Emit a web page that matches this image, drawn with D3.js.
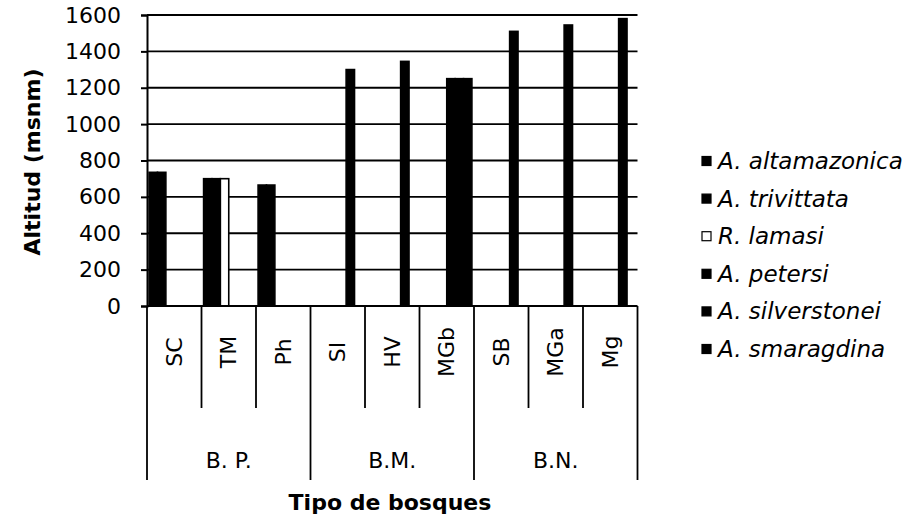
<!DOCTYPE html>
<html>
<head>
<meta charset="utf-8">
<script src="https://cdn.jsdelivr.net/npm/d3@7"></script>
<style>
  html, body { margin: 0; padding: 0; background: #fff; }
  svg { display: block; }
  text { font-family: "DejaVu Sans", "Liberation Sans", Arial, sans-serif; fill: #000; }
</style>
</head>
<body>
<svg id="chart" width="920" height="517"></svg>
<script>
// ---- data ----
const categories = ["SC", "TM", "Ph", "SI", "HV", "MGb", "SB", "MGa", "Mg"];
const categoryGroups = ["B. P.", "B. P.", "B. P.", "B.M.", "B.M.", "B.M.", "B.N.", "B.N.", "B.N."];
const groups = ["B. P.", "B.M.", "B.N."];
const seriesNames = ["A. altamazonica", "A. trivittata", "R. lamasi", "A. petersi", "A. silverstonei", "A. smaragdina"];
const altamazonica = [735, 700, 665, null, null, null, null, null, null];
const trivittata   = [735, 700, 665, null, null, null, null, null, null];
const lamasi       = [null, 700, null, null, null, null, null, null, null];
const petersi      = [null, null, null, null, null, 1250, null, null, null];
const silverstonei = [null, null, null, 1300, 1345, 1250, 1510, 1545, 1580];
const smaragdina   = [null, null, null, null, null, 1250, null, null, null];
const seriesFill = ["#000", "#000", "#fff", "#000", "#000", "#000"];
const yTicks = [0, 200, 400, 600, 800, 1000, 1200, 1400, 1600];
const yTitle = "Altitud (msnm)";
const xTitle = "Tipo de bosques";

const seriesValues = [altamazonica, trivittata, lamasi, petersi, silverstonei, smaragdina];

// ---- layout ----
const svg = d3.select("#chart");
const plotLeft = 147, plotRight = 637.5, plotTop = 15, plotBottom = 306;

const x0 = d3.scaleBand().domain(categories).range([plotLeft, plotRight]).paddingInner(0).paddingOuter(0);
const x1 = d3.scaleBand().domain(seriesNames).range([0, x0.bandwidth()]).paddingInner(0).paddingOuter(0.25);
const y = d3.scaleLinear().domain([0, 1600]).range([plotBottom, plotTop]);

// gridlines
svg.append("g")
  .selectAll("line")
  .data(yTicks.filter(t => t > 0))
  .join("line")
  .attr("x1", plotLeft).attr("x2", plotRight)
  .attr("y1", d => y(d)).attr("y2", d => y(d))
  .attr("stroke", "#000").attr("stroke-width", 1.8);

// bars
const barData = [];
seriesValues.forEach((vals, si) => {
  vals.forEach((v, ci) => {
    if (v != null) barData.push({ s: seriesNames[si], si, c: categories[ci], v });
  });
});
svg.append("g")
  .selectAll("rect")
  .data(barData)
  .join("rect")
  .attr("x", d => x0(d.c) + x1(d.s))
  .attr("y", d => y(d.v))
  .attr("width", x1.bandwidth())
  .attr("height", d => y(0) - y(d.v))
  .attr("fill", d => seriesFill[d.si])
  .attr("stroke", "#000")
  .attr("stroke-width", 1.6);

// y axis
const yAxis = svg.append("g")
  .attr("transform", `translate(${plotLeft},0)`)
  .call(d3.axisLeft(y).tickValues(yTicks).tickFormat(d3.format("d")).tickSize(6).tickPadding(20));
yAxis.select(".domain").attr("stroke", "#000").attr("stroke-width", 2);
yAxis.selectAll(".tick line").attr("stroke", "#000").attr("stroke-width", 2);
yAxis.selectAll(".tick text").attr("font-size", 22).attr("fill", "#000")
  .attr("font-family", "'DejaVu Sans', Arial, sans-serif");

// x axis baseline
svg.append("line")
  .attr("x1", plotLeft).attr("x2", plotRight)
  .attr("y1", y(0)).attr("y2", y(0))
  .attr("stroke", "#000").attr("stroke-width", 2);

// category separators
const boundaries = categories.map(c => x0(c)).concat([x0(categories[categories.length - 1]) + x0.bandwidth()]);
svg.append("g")
  .selectAll("line")
  .data(boundaries)
  .join("line")
  .attr("x1", d => d).attr("x2", d => d)
  .attr("y1", y(0))
  .attr("y2", (d, i) => (i % 3 === 0) ? 480 : 408)
  .attr("stroke", "#000").attr("stroke-width", 1.8);

// category labels
svg.append("g")
  .selectAll("text")
  .data(categories)
  .join("text")
  .attr("transform", d => `translate(${x0(d) + x0.bandwidth() / 2},352) rotate(-90)`)
  .attr("text-anchor", "middle")
  .attr("dominant-baseline", "central")
  .attr("font-size", 22)
  .text(d => d);

// group labels
svg.append("g")
  .selectAll("text")
  .data(groups)
  .join("text")
  .attr("x", g => {
    const cats = categories.filter((c, i) => categoryGroups[i] === g);
    return (x0(cats[0]) + x0(cats[cats.length - 1]) + x0.bandwidth()) / 2;
  })
  .attr("y", 460)
  .attr("text-anchor", "middle")
  .attr("dominant-baseline", "central")
  .attr("font-size", 22)
  .text(g => g);

// axis titles
svg.append("text")
  .attr("transform", "translate(32,162) rotate(-90)")
  .attr("text-anchor", "middle")
  .attr("dominant-baseline", "central")
  .attr("font-size", 22).attr("font-weight", "bold")
  .text(yTitle);

svg.append("text")
  .attr("x", 390).attr("y", 502)
  .attr("text-anchor", "middle")
  .attr("dominant-baseline", "central")
  .attr("font-size", 22).attr("font-weight", "bold")
  .text(xTitle);

// legend
const legend = svg.append("g").attr("transform", "translate(702,161)");
const items = legend.selectAll("g")
  .data(seriesNames)
  .join("g")
  .attr("transform", (d, i) => `translate(0,${i * 37.6})`);
items.append("rect")
  .attr("x", 0).attr("y", -4.5).attr("width", 9).attr("height", 9)
  .attr("fill", (d, i) => seriesFill[i])
  .attr("stroke", "#000").attr("stroke-width", 1.2);
items.append("text")
  .attr("x", 16).attr("y", 0)
  .attr("dominant-baseline", "central")
  .attr("font-size", 23).attr("font-style", "italic")
  .text(d => d);
</script>
</body>
</html>
